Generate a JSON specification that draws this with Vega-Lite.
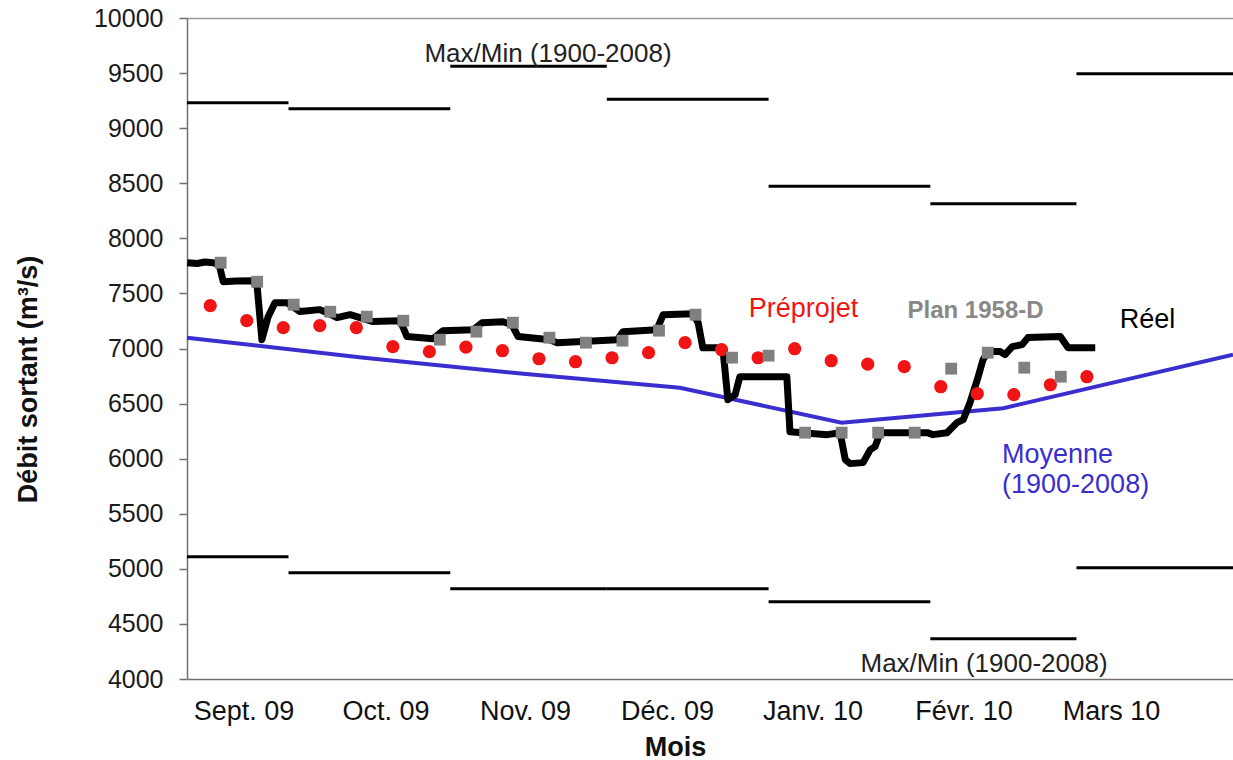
{
  "$schema": "https://vega.github.io/schema/vega-lite/v6.json",
  "width": 1046,
  "height": 661,
  "autosize": {"type": "none"},
  "padding": {"left": 187, "top": 18, "right": 0, "bottom": 81},
  "background": "white",
  "config": {"view": {"stroke": null}, "font": "Liberation Sans"},
  "datasets": {
    "reel": [
      {"jour": 10.6, "debit": 7779}, {"jour": 12.5, "debit": 7772}, {"jour": 14.0, "debit": 7785}, {"jour": 15.5, "debit": 7779},
      {"jour": 16.7, "debit": 7761}, {"jour": 17.5, "debit": 7607}, {"jour": 20.0, "debit": 7612}, {"jour": 23.0, "debit": 7616},
      {"jour": 24.0, "debit": 7562}, {"jour": 24.9, "debit": 7080}, {"jour": 26.1, "debit": 7289}, {"jour": 27.4, "debit": 7416},
      {"jour": 29.7, "debit": 7416}, {"jour": 32.2, "debit": 7335}, {"jour": 36.0, "debit": 7353}, {"jour": 37.4, "debit": 7325},
      {"jour": 39.3, "debit": 7280}, {"jour": 41.8, "debit": 7307}, {"jour": 43.7, "debit": 7280}, {"jour": 46.2, "debit": 7244},
      {"jour": 51.4, "debit": 7253}, {"jour": 52.7, "debit": 7108}, {"jour": 57.7, "debit": 7089}, {"jour": 59.6, "debit": 7162},
      {"jour": 65.4, "debit": 7171}, {"jour": 67.1, "debit": 7234}, {"jour": 71.1, "debit": 7243}, {"jour": 72.8, "debit": 7216},
      {"jour": 74.0, "debit": 7108}, {"jour": 80.1, "debit": 7080}, {"jour": 81.5, "debit": 7053}, {"jour": 93.0, "debit": 7080},
      {"jour": 94.1, "debit": 7153}, {"jour": 100.6, "debit": 7171}, {"jour": 101.8, "debit": 7307}, {"jour": 107.5, "debit": 7316},
      {"jour": 108.5, "debit": 7234}, {"jour": 109.4, "debit": 7007}, {"jour": 112.1, "debit": 7007}, {"jour": 113.3, "debit": 6971},
      {"jour": 114.2, "debit": 6535}, {"jour": 115.6, "debit": 6581}, {"jour": 116.5, "debit": 6744}, {"jour": 125.5, "debit": 6744},
      {"jour": 126.1, "debit": 6245}, {"jour": 133.2, "debit": 6218}, {"jour": 135.7, "debit": 6236}, {"jour": 136.7, "debit": 5991},
      {"jour": 137.6, "debit": 5955}, {"jour": 140.1, "debit": 5964}, {"jour": 141.5, "debit": 6082}, {"jour": 142.4, "debit": 6109},
      {"jour": 143.4, "debit": 6236}, {"jour": 152.4, "debit": 6236}, {"jour": 153.5, "debit": 6218}, {"jour": 156.2, "debit": 6236},
      {"jour": 158.1, "debit": 6327}, {"jour": 159.3, "debit": 6354}, {"jour": 160.6, "debit": 6509}, {"jour": 162.0, "debit": 6717},
      {"jour": 163.1, "debit": 6899}, {"jour": 164.1, "debit": 6972}, {"jour": 166.4, "debit": 6972}, {"jour": 167.3, "debit": 6944},
      {"jour": 168.7, "debit": 7017}, {"jour": 170.6, "debit": 7035}, {"jour": 171.7, "debit": 7099}, {"jour": 177.9, "debit": 7108},
      {"jour": 179.4, "debit": 7007}, {"jour": 184.6, "debit": 7007}
    ],
    "preprojet": [
      {"jour": 15, "debit": 7389}, {"jour": 22, "debit": 7253}, {"jour": 29, "debit": 7189}, {"jour": 36, "debit": 7207},
      {"jour": 43, "debit": 7189}, {"jour": 50, "debit": 7017}, {"jour": 57, "debit": 6971}, {"jour": 64, "debit": 7012},
      {"jour": 71, "debit": 6980}, {"jour": 78, "debit": 6907}, {"jour": 85, "debit": 6880}, {"jour": 92, "debit": 6916},
      {"jour": 99, "debit": 6962}, {"jour": 106, "debit": 7053}, {"jour": 113, "debit": 6989}, {"jour": 120, "debit": 6916},
      {"jour": 127, "debit": 6998}, {"jour": 134, "debit": 6889}, {"jour": 141, "debit": 6858}, {"jour": 148, "debit": 6835},
      {"jour": 155, "debit": 6653}, {"jour": 162, "debit": 6590}, {"jour": 169, "debit": 6581}, {"jour": 176, "debit": 6671},
      {"jour": 183, "debit": 6744}
    ],
    "plan": [
      {"jour": 17, "debit": 7779}, {"jour": 24, "debit": 7606}, {"jour": 31, "debit": 7398}, {"jour": 38, "debit": 7334},
      {"jour": 45, "debit": 7289}, {"jour": 52, "debit": 7252}, {"jour": 59, "debit": 7080}, {"jour": 66, "debit": 7153},
      {"jour": 73, "debit": 7234}, {"jour": 80, "debit": 7098}, {"jour": 87, "debit": 7053}, {"jour": 94, "debit": 7071},
      {"jour": 101, "debit": 7162}, {"jour": 108, "debit": 7307}, {"jour": 115, "debit": 6917}, {"jour": 122, "debit": 6935},
      {"jour": 129, "debit": 6236}, {"jour": 136, "debit": 6236}, {"jour": 143, "debit": 6236}, {"jour": 150, "debit": 6236},
      {"jour": 157, "debit": 6817}, {"jour": 164, "debit": 6962}, {"jour": 171, "debit": 6826}, {"jour": 178, "debit": 6744}
    ],
    "moyenne": [
      {"jour": 10.55, "debit": 7098}, {"jour": 14, "debit": 7080}, {"jour": 44, "debit": 6919}, {"jour": 75, "debit": 6771},
      {"jour": 105, "debit": 6644}, {"jour": 136, "debit": 6327}, {"jour": 167, "debit": 6458}, {"jour": 195, "debit": 6767},
      {"jour": 211, "debit": 6944}
    ],
    "maxmin": [
      {"mois": "Sept. 09", "type": "Max", "jour": 10.55, "fin": 30, "debit": 9231},
      {"mois": "Oct. 09", "type": "Max", "jour": 30, "fin": 61, "debit": 9177},
      {"mois": "Nov. 09", "type": "Max", "jour": 61, "fin": 91, "debit": 9562},
      {"mois": "Déc. 09", "type": "Max", "jour": 91, "fin": 122, "debit": 9263},
      {"mois": "Janv. 10", "type": "Max", "jour": 122, "fin": 153, "debit": 8473},
      {"mois": "Févr. 10", "type": "Max", "jour": 153, "fin": 181, "debit": 8314},
      {"mois": "Mars 10", "type": "Max", "jour": 181, "fin": 211, "debit": 9494},
      {"mois": "Sept. 09", "type": "Min", "jour": 10.55, "fin": 30, "debit": 5110},
      {"mois": "Oct. 09", "type": "Min", "jour": 30, "fin": 61, "debit": 4965},
      {"mois": "Nov. 09", "type": "Min", "jour": 61, "fin": 91, "debit": 4820},
      {"mois": "Déc. 09", "type": "Min", "jour": 91, "fin": 122, "debit": 4820},
      {"mois": "Janv. 10", "type": "Min", "jour": 122, "fin": 153, "debit": 4702},
      {"mois": "Févr. 10", "type": "Min", "jour": 153, "fin": 181, "debit": 4365},
      {"mois": "Mars 10", "type": "Min", "jour": 181, "fin": 211, "debit": 5010}
    ]
  },
  "encoding": {
    "x": {
      "field": "jour",
      "type": "quantitative",
      "scale": {"domain": [10.55, 211], "nice": false, "zero": false},
      "axis": {
        "title": "Mois",
        "values": [21.38, 48.59, 75.33, 102.54, 130.42, 159.36, 187.63],
        "labelExpr": "datum.value < 30 ? 'Sept. 09' : datum.value < 61 ? 'Oct. 09' : datum.value < 91 ? 'Nov. 09' : datum.value < 122 ? 'Déc. 09' : datum.value < 153 ? 'Janv. 10' : datum.value < 181 ? 'Févr. 10' : 'Mars 10'",
        "ticks": false,
        "tickSize": 0,
        "grid": false,
        "domainColor": "#707070",
        "domainWidth": 1.5,
        "labelFontSize": 27,
        "labelColor": "#111111",
        "labelBaseline": "alphabetic",
        "labelPadding": 40,
        "labelFlush": false,
        "labelOverlap": false,
        "titleFontSize": 27,
        "titleFontWeight": "bold",
        "titleColor": "#111111",
        "titleX": 488,
        "titleY": 76,
        "titleAlign": "center",
        "titleBaseline": "alphabetic"
      }
    },
    "y": {
      "field": "debit",
      "type": "quantitative",
      "scale": {"domain": [4000, 10000], "nice": false, "zero": false},
      "axis": {
        "title": "Débit sortant (m³/s)",
        "values": [4000, 4500, 5000, 5500, 6000, 6500, 7000, 7500, 8000, 8500, 9000, 9500, 10000],
        "format": "d",
        "grid": true,
        "gridColor": "#999999",
        "gridWidth": 1.5,
        "gridOpacity": {"condition": {"test": "datum.value == 10000", "value": 1}, "value": 0},
        "tickSize": 8,
        "tickColor": "#707070",
        "tickWidth": 1.5,
        "domainColor": "#707070",
        "domainWidth": 1.5,
        "labelFontSize": 25,
        "labelColor": "#1a1a1a",
        "labelPadding": 16,
        "labelFlush": false,
        "labelOverlap": false,
        "titleFontSize": 27,
        "titleFontWeight": "bold",
        "titleColor": "#111111",
        "titleAngle": -90,
        "titleX": -151,
        "titleY": 361,
        "titleAlign": "center",
        "titleBaseline": "alphabetic"
      }
    }
  },
  "layer": [
    {
      "data": {"name": "maxmin"},
      "mark": {"type": "rule", "color": "#000000", "strokeWidth": 3},
      "encoding": {"x2": {"field": "fin"}}
    },
    {
      "data": {"name": "moyenne"},
      "mark": {"type": "line", "color": "#3a2ecf", "strokeWidth": 4},
      "encoding": {}
    },
    {
      "data": {"name": "reel"},
      "mark": {"type": "line", "color": "#000000", "strokeWidth": 7, "strokeJoin": "round", "strokeCap": "butt"},
      "encoding": {}
    },
    {
      "data": {"name": "preprojet"},
      "mark": {"type": "point", "shape": "circle", "filled": true, "color": "#f01414", "opacity": 1, "size": 175},
      "encoding": {}
    },
    {
      "data": {"name": "plan"},
      "mark": {"type": "point", "shape": "square", "filled": true, "color": "#808080", "opacity": 1, "size": 140},
      "encoding": {}
    },
    {
      "data": {"values": [
        {"jour": 79.73, "debit": 9603, "texte": "Max/Min (1900-2008)"},
        {"jour": 163.29, "debit": 4066, "texte": "Max/Min (1900-2008)"}
      ]},
      "mark": {"type": "text", "fontSize": 26, "color": "#222222", "align": "center", "baseline": "alphabetic"},
      "encoding": {"text": {"field": "texte"}}
    },
    {
      "data": {"values": [{"jour": 128.7, "debit": 7289, "texte": "Préprojet"}]},
      "mark": {"type": "text", "fontSize": 27, "color": "#f01414", "align": "center", "baseline": "alphabetic"},
      "encoding": {"text": {"field": "texte"}}
    },
    {
      "data": {"values": [{"jour": 161.66, "debit": 7275, "texte": "Plan 1958-D"}]},
      "mark": {"type": "text", "fontSize": 24, "fontWeight": "bold", "color": "#888888", "align": "center", "baseline": "alphabetic"},
      "encoding": {"text": {"field": "texte"}}
    },
    {
      "data": {"values": [{"jour": 194.6, "debit": 7189, "texte": "Réel"}]},
      "mark": {"type": "text", "fontSize": 27, "color": "#000000", "align": "center", "baseline": "alphabetic"},
      "encoding": {"text": {"field": "texte"}}
    },
    {
      "data": {"values": [{"jour": 166.74, "debit": 5963, "texte": "Moyenne\n(1900-2008)"}]},
      "mark": {"type": "text", "fontSize": 27, "color": "#3a2ecf", "align": "left", "baseline": "alphabetic", "lineBreak": "\n", "lineHeight": 30},
      "encoding": {"text": {"field": "texte"}}
    }
  ]
}
